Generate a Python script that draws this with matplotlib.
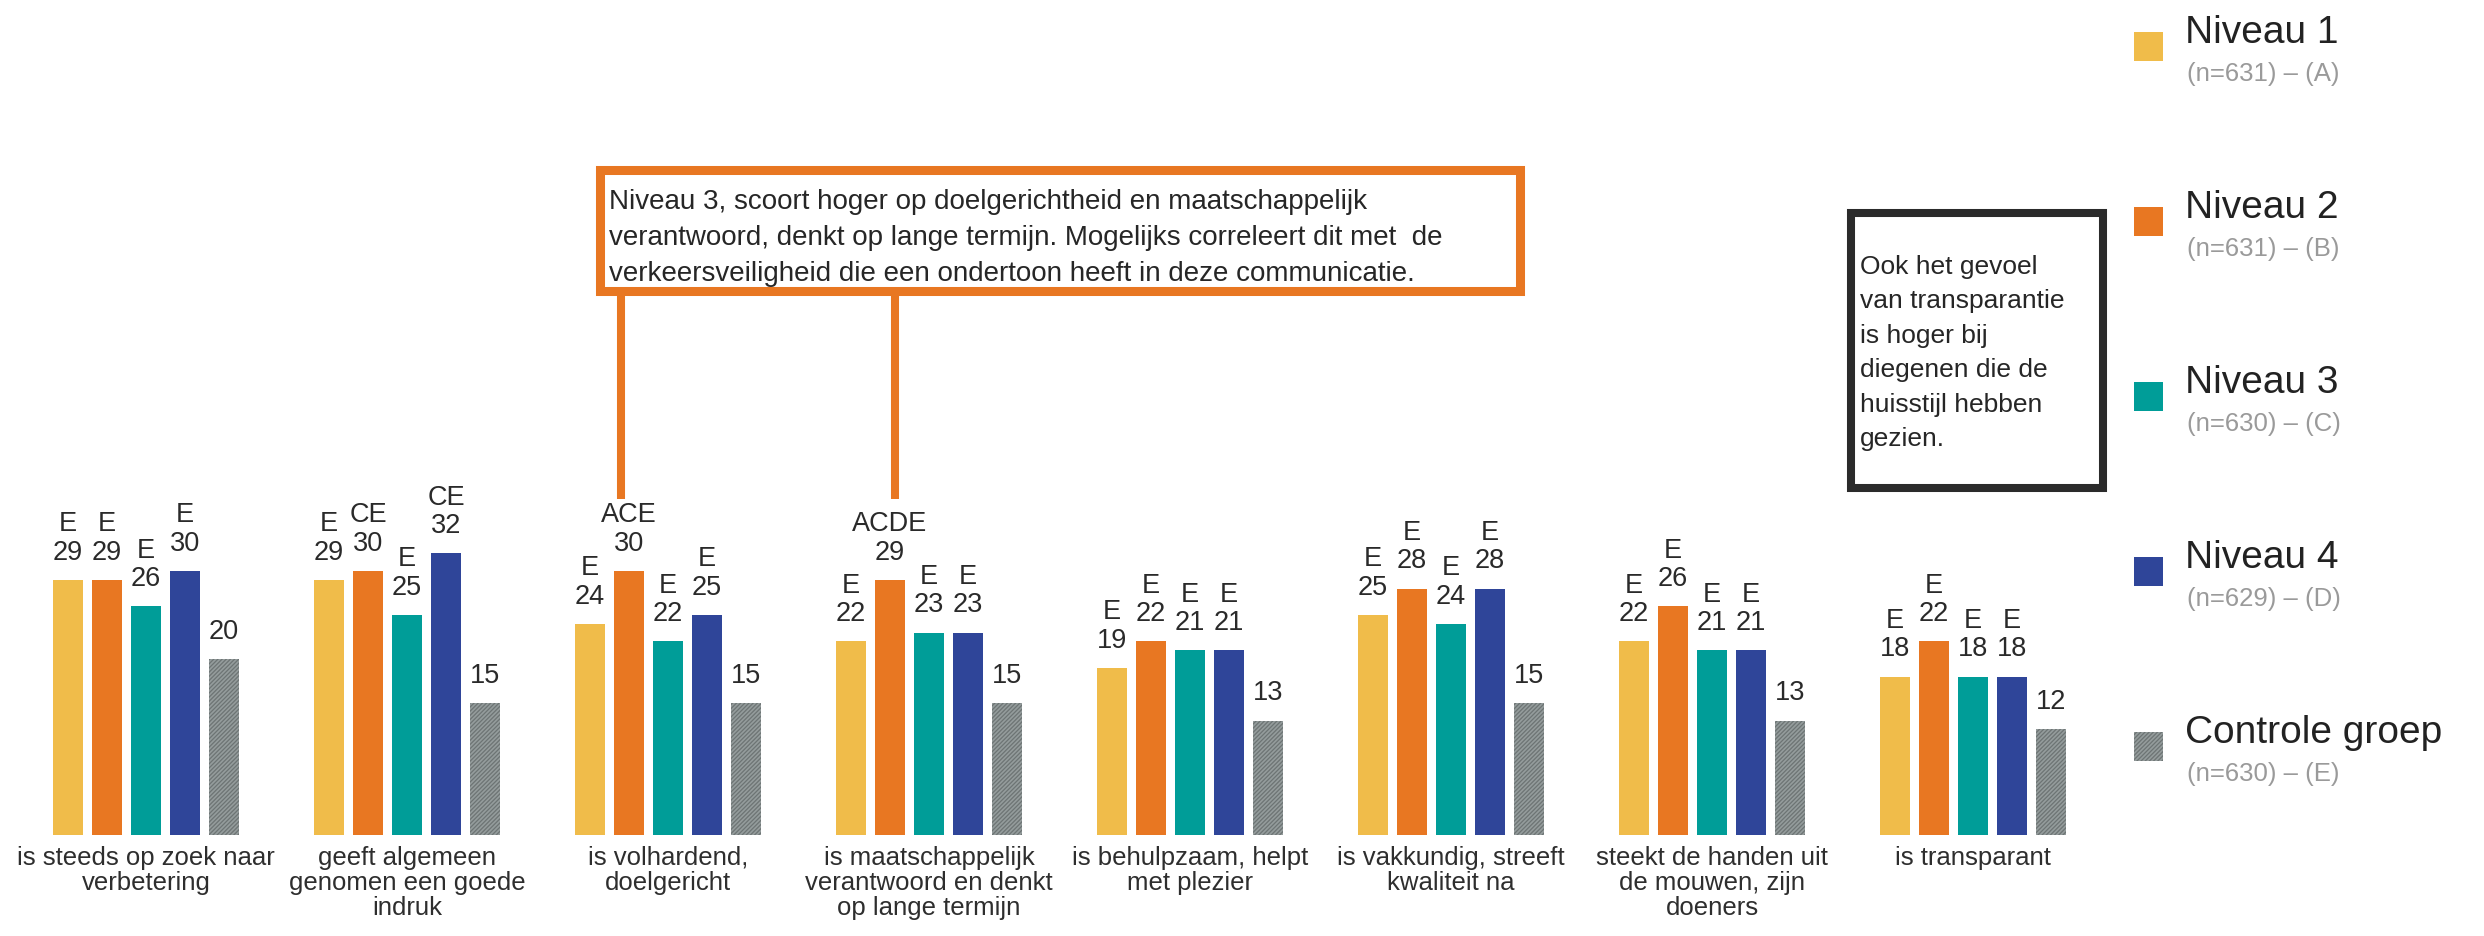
import matplotlib
matplotlib.use("Agg")
import matplotlib.pyplot as plt
from matplotlib.patches import Rectangle
from matplotlib.lines import Line2D
import numpy as np

plt.rcParams['font.family'] = ['Liberation Sans', 'DejaVu Sans']
plt.rcParams['hatch.linewidth'] = 1.2

# data
categories = [
    "is steeds op zoek naar\nverbetering",
    "geeft algemeen\ngenomen een goede\nindruk",
    "is volhardend,\ndoelgericht",
    "is maatschappelijk\nverantwoord en denkt\nop lange termijn",
    "is behulpzaam, helpt\nmet plezier",
    "is vakkundig, streeft\nkwaliteit na",
    "steekt de handen uit\nde mouwen, zijn\ndoeners",
    "is transparant",
]
niveau1 = [29, 29, 24, 22, 19, 25, 22, 18]
niveau2 = [29, 30, 30, 29, 22, 28, 26, 22]
niveau3 = [26, 25, 22, 23, 21, 24, 21, 18]
niveau4 = [30, 32, 25, 23, 21, 28, 21, 18]
controle = [20, 15, 15, 15, 13, 15, 13, 12]

sig1 = ["E", "E", "E", "E", "E", "E", "E", "E"]
sig2 = ["E", "CE", "ACE", "ACDE", "E", "E", "E", "E"]
sig3 = ["E", "E", "E", "E", "E", "E", "E", "E"]
sig4 = ["E", "CE", "E", "E", "E", "E", "E", "E"]
sig5 = ["", "", "", "", "", "", "", ""]

series_names = ["Niveau 1", "Niveau 2", "Niveau 3", "Niveau 4", "Controle groep"]
series_n = ["(n=631) – (A)", "(n=631) – (B)", "(n=630) – (C)", "(n=629) – (D)", "(n=630) – (E)"]
colors = ["#F0BC4A", "#E87722", "#009D98", "#2F4599", "#6D7474"]
hatch_col = "#949c9c"

note_orange = ("Niveau 3, scoort hoger op doelgerichtheid en maatschappelijk\n"
               "verantwoord, denkt op lange termijn. Mogelijks correleert dit met  de\n"
               "verkeersveiligheid die een ondertoon heeft in deze communicatie.")
note_black = ("Ook het gevoel\nvan transparantie\nis hoger bij\n"
              "diegenen die de\nhuisstijl hebben\ngezien.")

# figure layout (pixels)
W, H = 2484, 937
fig = plt.figure(figsize=(W / 100, H / 100), dpi=100)

def fx(x):
    return x / W

def fy(y):
    return 1 - y / H

base_px = 836
unit_px = 8.8
bar_px = 39
ax = fig.add_axes([0, fy(base_px), 1, base_px / H])
ax.set_ylim(0, base_px / unit_px)
ax.set_xlim(-146 / bar_px, (W - 146) / bar_px)
ax.axis('off')

step = 261 / bar_px
x = np.arange(len(categories)) * step
all_vals = [niveau1, niveau2, niveau3, niveau4, controle]
all_sig = [sig1, sig2, sig3, sig4, sig5]

for j, (vals, sig) in enumerate(zip(all_vals, all_sig)):
    xs = x + (j - 2)
    if j == 4:
        ax.bar(xs, vals, width=0.77, color=colors[j], edgecolor=hatch_col,
               linewidth=0, hatch='////////')
    else:
        ax.bar(xs, vals, width=0.77, color=colors[j], linewidth=0)
    for xi, v, s in zip(xs, vals, sig):
        lab = f"{s}\n{v}" if s else f"{v}"
        ax.annotate(lab, (xi, v), xytext=(0, 11), textcoords='offset points',
                    ha='center', va='bottom', fontsize=19.5, color='#2a2a2a',
                    linespacing=1.12)

for xi, cat in zip(x, categories):
    ax.annotate(cat, (xi, 0), xytext=(0, -7), textcoords='offset points',
                ha='center', va='top', fontsize=18.5, color='#2e2e2e',
                linespacing=1.05)

# legend
for k, (name, n) in enumerate(zip(series_names, series_n)):
    cy = 47 + k * 175
    sq = Rectangle((fx(2134), fy(cy + 14.5)), 29 / W, 29 / H, transform=fig.transFigure,
                   facecolor=colors[k], edgecolor=hatch_col if k == 4 else 'none',
                   linewidth=0, hatch='////////' if k == 4 else None)
    fig.patches.append(sq)
    fig.text(fx(2185), fy(cy - 4), name, fontsize=28, color='#222222', va='baseline')
    fig.text(fx(2187), fy(cy + 34), n, fontsize=18.5, color='#9a9a9a', va='baseline')

# orange note box with connector lines
box1 = Rectangle((fx(599.5), fy(291.5)), 920 / W, 121 / H, transform=fig.transFigure,
                 facecolor='white', edgecolor='#E87722', linewidth=6.5)
fig.patches.append(box1)
fig.text(fx(609), fy(189), note_orange, fontsize=20, color='#262626',
         va='top', ha='left', linespacing=1.5)

for lx in [621, 895]:
    fig.add_artist(Line2D([fx(lx), fx(lx)], [fy(296), fy(500)], transform=fig.transFigure,
                          color='#E87722', linewidth=5.8, solid_capstyle='butt'))

# black note box
box2 = Rectangle((fx(1851), fy(489)), 252 / W, 275 / H, transform=fig.transFigure,
                 facecolor='white', edgecolor='#2b2b2b', linewidth=5.8)
fig.patches.append(box2)
fig.text(fx(1860), fy(255), note_black, fontsize=19, color='#262626',
         va='top', ha='left', linespacing=1.55)

fig.savefig("out.png", dpi=100, facecolor='white')
